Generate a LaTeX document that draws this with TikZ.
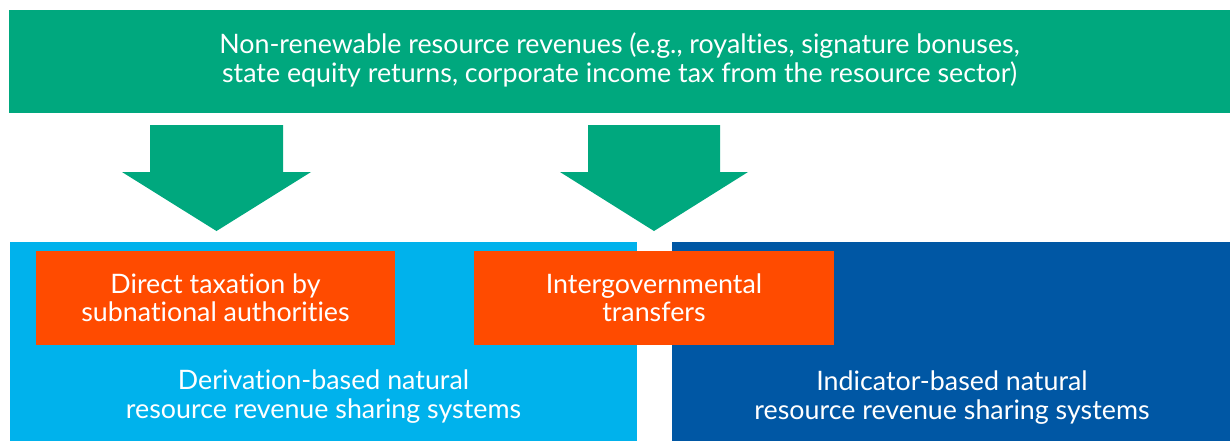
\documentclass[tikz,border=0pt]{standalone}
\usepackage{fontspec}
\setmainfont{Lato}[RawFeature={-liga,-dlig}]
\definecolor{revgreen}{RGB}{0,168,126}
\definecolor{derivblue}{RGB}{0,178,236}
\definecolor{indicblue}{RGB}{0,87,164}
\definecolor{channelorange}{RGB}{255,75,0}

\tikzset{every picture/.style={line width=0.75pt}}

\begin{document}
\begin{tikzpicture}[x=0.5pt,y=0.5pt,yscale=-1,xscale=1,
  boxtext/.style={text=white, align=center, inner sep=0.75pt, font=\fontsize{13.4}{14.2}\selectfont}]
\useasboundingbox (0,0) rectangle (1230,441);

%Shape: Rectangle [revenues]
\fill [revgreen] (9,10) rectangle (1230,112.5);
%Shape: Rectangle [derivation system]
\fill [derivblue] (10,242) rectangle (636.7,441);
%Shape: Rectangle [indicator system]
\fill [indicblue] (672,242) rectangle (1230,441);
%Shape: Rectangle [direct taxation]
\fill [channelorange] (36,251) rectangle (395,344.5);
%Shape: Rectangle [transfers]
\fill [channelorange] (474,251) rectangle (834,344.5);

%Shape: Down Arrow [left]
\fill [revgreen] (150,125) -- (283,125) -- (283,172) -- (311,172) -- (216.5,231) -- (122,172) -- (150,172) -- cycle ;
%Shape: Down Arrow [right]
\fill [revgreen] (588,125) -- (720,125) -- (720,172) -- (748,172) -- (654,231) -- (560,172) -- (588,172) -- cycle ;

% Text Node
\node [boxtext] (revenues) at (619.5,60) {Non-renewable resource revenues (e.g., royalties, signature bonuses,\\ state equity returns, corporate income tax from the resource sector)};
% Text Node
\node [boxtext] (taxation) at (215.5,297.5) {Direct taxation by\\ subnational authorities};
% Text Node
\node [boxtext] (transfers) at (654,297.5) {Intergovernmental\\ transfers};
% Text Node
\node [boxtext] (derivation) at (323.5,396.5) {Derivation-based natural\\ resource revenue sharing systems};
% Text Node
\node [boxtext] (indicator) at (952,397.5) {Indicator-based natural\\ resource revenue sharing systems};

\end{tikzpicture}
\end{document}
